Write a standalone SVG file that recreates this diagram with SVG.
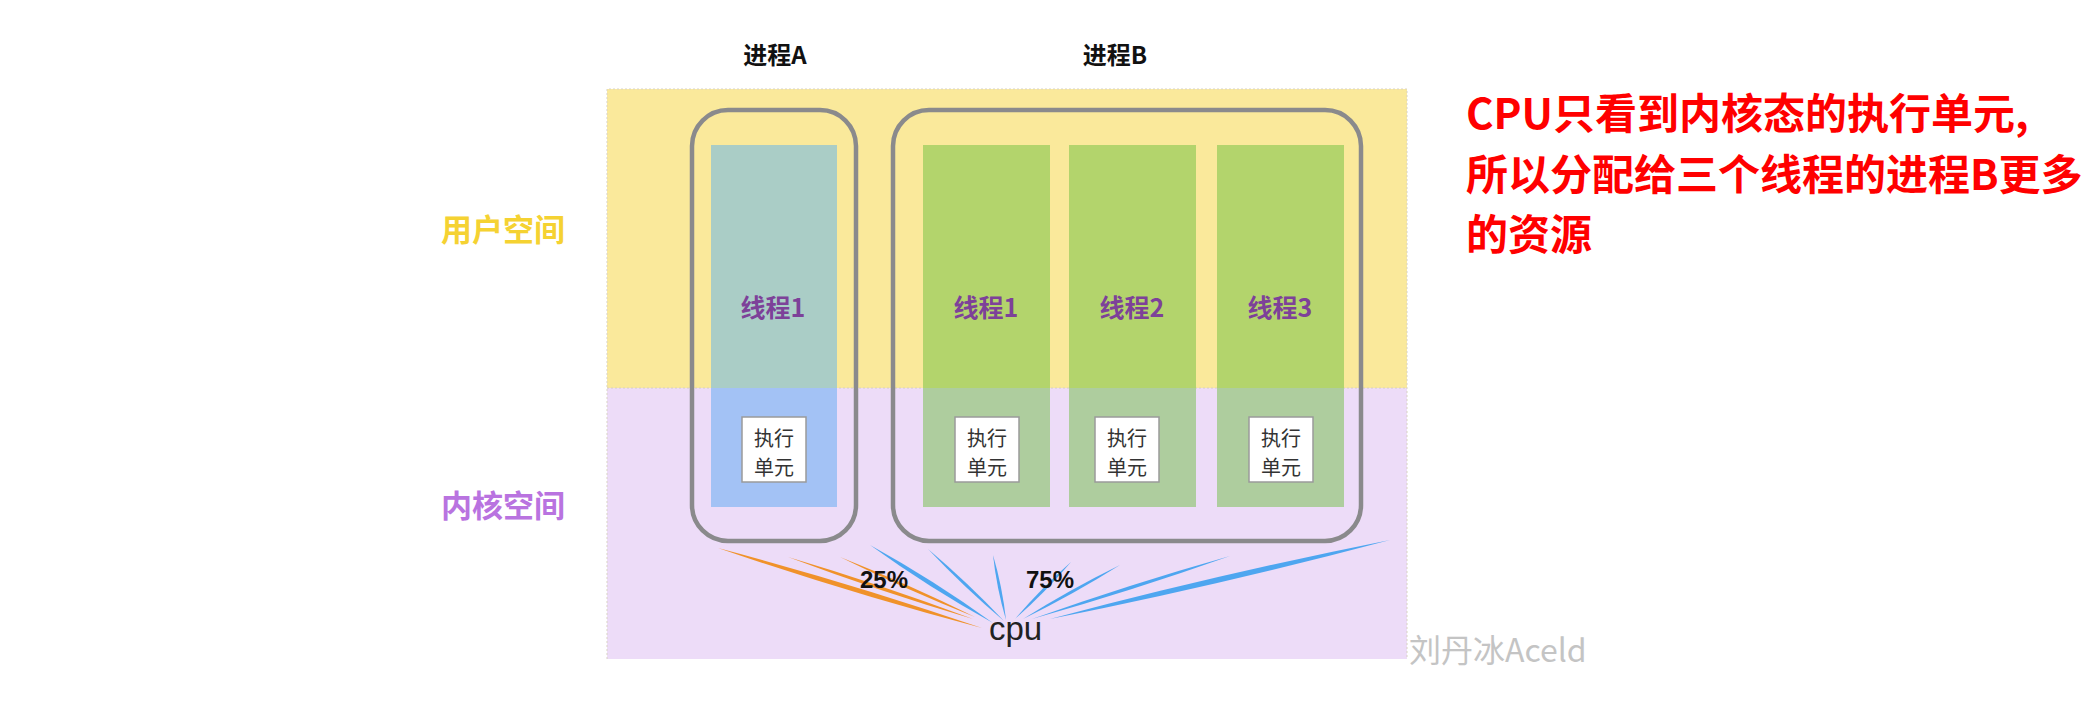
<svg xmlns="http://www.w3.org/2000/svg" width="2088" height="706" viewBox="0 0 2088 706">
<style>
.cjk{font-family:"Noto Sans CJK SC","Noto Sans",sans-serif}
.lat{font-family:"Liberation Sans",Arial,sans-serif}
.proc{fill:none;stroke:#8a8a8c;stroke-width:4.5}
.tlabel{font-size:25px;font-weight:bold;fill:#7d4199;text-anchor:middle}
.exbox{fill:#ffffff;stroke:#9a9a9a;stroke-width:1.5}
.extext{font-size:20px;fill:#333333;text-anchor:middle}
.or{fill:#f0922a}
.bl{fill:#4ea6f0}
</style>
<rect x="0" y="0" width="2088" height="706" fill="#ffffff"/>
<g id="user-space">
<rect x="607" y="89" width="800" height="299" fill="#fae99b"/>
<text class="cjk" x="503" y="241" font-size="31" fill="#f5d232" text-anchor="middle" font-weight="bold">用户空间</text>
</g>
<g id="kernel-space">
<rect x="607" y="388" width="800" height="271" fill="#eddcf8"/>
<text class="cjk" x="503" y="517" font-size="31" fill="#b973e0" text-anchor="middle" font-weight="bold">内核空间</text>
</g>
<path d="M607,659 V89 H1407 V659" fill="none" stroke="#d9d3c4" stroke-width="1" stroke-dasharray="2,2"/>
<line x1="607" y1="388" x2="1407" y2="388" stroke="#d8cfc0" stroke-width="1" stroke-dasharray="2,2"/>
<g id="threadA1">
<rect x="711" y="145" width="126" height="243" fill="#aacdc6"/>
<rect x="711" y="388" width="126" height="119" fill="#a3c2f5"/>
<text class="cjk tlabel" x="773" y="317">线程1</text>
<rect class="exbox" x="742" y="417" width="64" height="65"/>
<text class="cjk extext" x="774" y="445.5">执行</text>
<text class="cjk extext" x="774" y="474.5">单元</text>
</g>
<g id="threadB1">
<rect x="923" y="145" width="127" height="243" fill="#b3d46c"/>
<rect x="923" y="388" width="127" height="119" fill="#aecd9e"/>
<text class="cjk tlabel" x="986" y="317">线程1</text>
<rect class="exbox" x="955" y="417" width="64" height="65"/>
<text class="cjk extext" x="987" y="445.5">执行</text>
<text class="cjk extext" x="987" y="474.5">单元</text>
</g>
<g id="threadB2">
<rect x="1069" y="145" width="127" height="243" fill="#b3d46c"/>
<rect x="1069" y="388" width="127" height="119" fill="#aecd9e"/>
<text class="cjk tlabel" x="1132" y="317">线程2</text>
<rect class="exbox" x="1095" y="417" width="64" height="65"/>
<text class="cjk extext" x="1127" y="445.5">执行</text>
<text class="cjk extext" x="1127" y="474.5">单元</text>
</g>
<g id="threadB3">
<rect x="1217" y="145" width="127" height="243" fill="#b3d46c"/>
<rect x="1217" y="388" width="127" height="119" fill="#aecd9e"/>
<text class="cjk tlabel" x="1280" y="317">线程3</text>
<rect class="exbox" x="1249" y="417" width="64" height="65"/>
<text class="cjk extext" x="1281" y="445.5">执行</text>
<text class="cjk extext" x="1281" y="474.5">单元</text>
</g>
<g id="processA">
<rect class="proc" x="692" y="110" width="164" height="431" rx="36" ry="36"/>
<text class="cjk" x="775" y="64" font-size="24" font-weight="bold" fill="#111111" text-anchor="middle">进程A</text>
</g>
<g id="processB">
<rect class="proc" x="893" y="110" width="468" height="431" rx="36" ry="36"/>
<text class="cjk" x="1115" y="64" font-size="24" font-weight="bold" fill="#111111" text-anchor="middle">进程B</text>
</g>
<g id="connectors">
<path class="or" d="M718,548 Q848.5,592.8 982,628 Q851.5,583.2 718,548 Z"/>
<path class="or" d="M788,557 Q879.4,591.3 973,619 Q881.6,584.7 788,557 Z"/>
<path class="or" d="M840,557 Q906.3,589.7 975,617 Q908.7,584.3 840,557 Z"/>
<path class="bl" d="M870,545 Q929.1,587.8 993,623 Q933.9,580.2 870,545 Z"/>
<path class="bl" d="M928,549 Q963.9,587.2 1004,621 Q968.1,582.8 928,549 Z"/>
<path class="bl" d="M993,555 Q996.6,588.1 1006,620 Q1002.4,586.9 993,555 Z"/>
<path class="bl" d="M1071,562 Q1040.9,588.4 1015,619 Q1045.1,592.6 1071,562 Z"/>
<path class="bl" d="M1120,565 Q1070,589.4 1023,619 Q1073,594.6 1120,565 Z"/>
<path class="bl" d="M1230,556 Q1129.9,584.2 1032,619 Q1132.1,590.8 1230,556 Z"/>
<path class="bl" d="M1390,540 Q1218.8,574.1 1050,619 Q1221.2,584.9 1390,540 Z"/>
<text class="lat" x="860" y="588" font-size="24" font-weight="bold" fill="#111111">25%</text>
<text class="lat" x="1026" y="588" font-size="24" font-weight="bold" fill="#111111">75%</text>
</g>
<g id="cpu">
<text class="lat" x="989" y="640" font-size="33" fill="#222222">cpu</text>
</g>
<g id="note">
<text class="cjk" font-size="42" font-weight="bold" fill="#ff0000">
<tspan x="1466" y="129">CPU只看到内核态的执行单元,</tspan>
<tspan x="1466" y="190">所以分配给三个线程的进程B更多</tspan>
<tspan x="1466" y="250">的资源</tspan>
</text>
</g>
<text class="cjk" x="1409" y="662" font-size="32" fill="#c4c4c4">刘丹冰Aceld</text>
</svg>
